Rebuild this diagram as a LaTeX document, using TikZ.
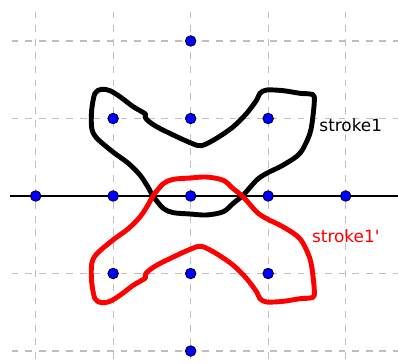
\documentclass[tikz,border=0pt]{standalone}
\usepackage{fontspec}
\setmainfont{DejaVu Sans}
\usepackage{tikz}

\begin{document}
\begin{tikzpicture}[
    gridline/.style={draw=black!25, line width=0.4pt, dash pattern=on 2.5pt off 2.5pt},
    axis/.style={draw=black, line width=0.5pt},
    pt/.style={circle, draw=blue!30!black, fill=blue, line width=0.35pt, inner sep=0pt, minimum size=0.135cm},
    pen/.style={line width=1.8pt, line join=round},
    lbl/.style={anchor=base west, inner sep=0pt, font=\fontsize{6.2}{7}\selectfont}
  ]
    \useasboundingbox (-2.46,-2.155) rectangle (2.675,2.529);

    % Grid
    \foreach \x in {-2,...,2}
      \draw[gridline] (\x,2.38) -- (\x,-2.155);
    \foreach \y in {-2,-1,1,2}
      \draw[gridline] (-2.31,\y) -- (2.675,\y);

    % Axis of reflection
    \draw[axis] (-2.33,0) -- (2.675,0);

    % Stroke and its mirror image
    \foreach \s/\c in {1/black, -1/red}
      \draw[pen, \c, yscale=\s] plot[smooth cycle, tension=0.5] coordinates {
        (-1.148,1.377) (-1.235,1.325) (-1.277,1.110) (-1.277,0.877)
        (-1.213,0.748) (-1.003,0.568) (-0.809,0.426) (-0.654,0.271)
        (-0.551,0.116) (-0.486,0.000) (-0.354,-0.159) (-0.225,-0.215)
        (-0.009,-0.232) (0.206,-0.245) (0.421,-0.203) (0.550,-0.094)
        (0.679,0.013) (0.852,0.206) (0.981,0.293) (1.195,0.400)
        (1.410,0.551) (1.539,0.809) (1.582,1.067) (1.595,1.281)
        (1.539,1.316) (1.410,1.325) (1.195,1.359) (0.981,1.368)
        (0.894,1.325) (0.852,1.239) (0.723,1.067) (0.550,0.894)
        (0.335,0.745) (0.142,0.649) (0.013,0.680) (-0.225,0.787)
        (-0.439,0.894) (-0.555,0.975) (-0.590,1.025) (-0.585,1.060)
        (-0.741,1.152) (-0.912,1.281) (-1.041,1.359)};

    % Lattice points
    \foreach \x/\y/\n in {0/2/a, -1/1/b, 0/1/c, 1/1/d,
        -2/0/e, -1/0/f, 0/0/g, 1/0/h, 2/0/i,
        -1/-1/j, 0/-1/k, 1/-1/l, 0/-2/m}
      \node[pt] (p\n) at (\x,\y) {};

    % Labels
    \node[lbl] (orig) at (1.655,0.830) {stroke1};
    \node[lbl, text=red] (mirr) at (1.560,-0.597) {stroke1\textquotesingle};
  \end{tikzpicture}
\end{document}
